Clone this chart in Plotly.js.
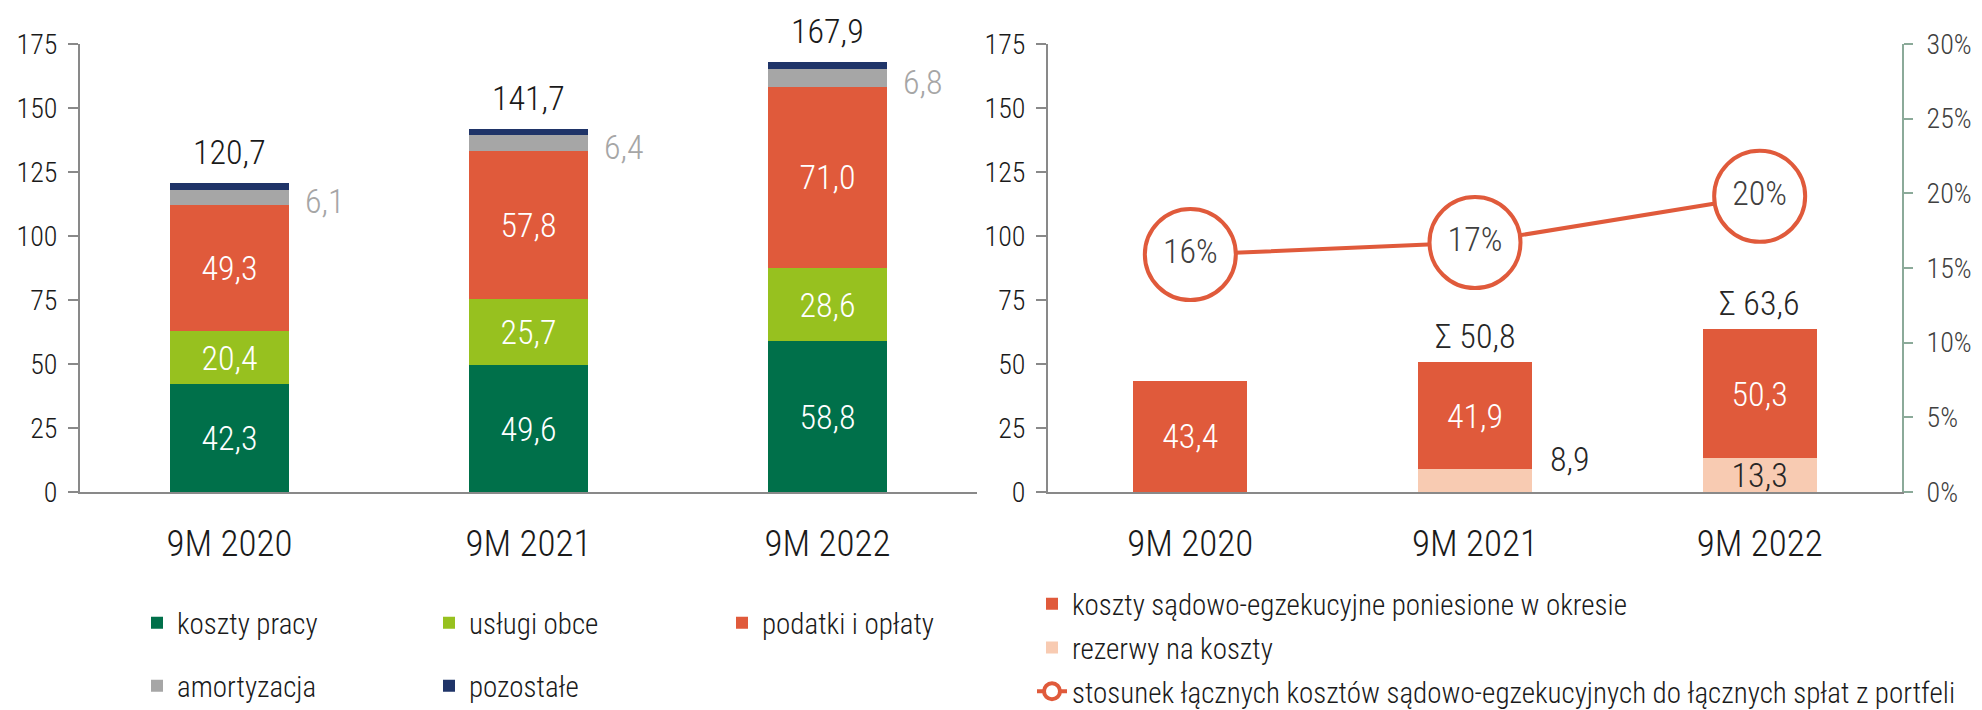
<!DOCTYPE html>
<html><head><meta charset="utf-8">
<script src="https://cdn.plot.ly/plotly-3.0.1.min.js"></script>
<style>html,body{margin:0;padding:0;background:#fff;} #chart{width:1982px;height:710px;}</style>
</head><body><div id="chart"></div>
<script>
// ---------- data ----------
const categories = ['9M 2020', '9M 2021', '9M 2022'];

// left chart
const kosztyPracy   = [42.3, 49.6, 58.8];
const uslugiObce    = [20.4, 25.7, 28.6];
const podatkiOplaty = [49.3, 57.8, 71.0];
const amortyzacja   = [6.1, 6.4, 6.8];
const pozostale     = [2.6, 2.2, 2.7];
const sumyLewe      = [120.7, 141.7, 167.9];

// right chart
const kosztySadowe  = [43.4, 41.9, 50.3];
const rezerwy       = [null, 8.9, 13.3];
const rezerwyOutside = [false, true, false];
const sumyPrawe     = [null, 50.8, 63.6];
const stosunek      = [15.9, 16.7, 19.8];

const leftTicks = [0, 25, 50, 75, 100, 125, 150, 175];
const pctTicks  = [0, 5, 10, 15, 20, 25, 30];

const names = {
  kp: 'koszty pracy', uo: 'usługi obce', po: 'podatki i opłaty',
  am: 'amortyzacja', pz: 'pozostałe',
  ks: 'koszty sądowo-egzekucyjne poniesione w okresie',
  rz: 'rezerwy na koszty',
  st: 'stosunek łącznych kosztów sądowo-egzekucyjnych do łącznych spłat z portfeli'
};

// ---------- styling ----------
const W = 1982, H = 710;
const FONT = '"Roboto Condensed", "Liberation Sans Narrow", "DejaVu Sans Condensed", "Arial Narrow", sans-serif';
const WT = 300;
const C = {
  green: '#00704A', lime: '#97C11F', orange: '#E05A3B', gray: '#A6A6A6',
  navy: '#1F3468', peach: '#F8CBB2', axis: '#898989', axis2: '#8BAA99',
  text: '#1A1A1A', text2: '#404040'
};
const fx = p => p / W;
const fy = p => 1 - p / H;
const fmt = v => v.toFixed(1).replace('.', ',');
const F = (size, color) => ({family: FONT, size: size, color: color, weight: WT});

const yDomain = [fy(492), fy(44)];
const BAR_LABEL = 34;

function stackBar(y, name, color, xa, ya, legend, opts) {
  return Object.assign({
    type: 'bar', x: categories, y: y, name: name, xaxis: xa, yaxis: ya,
    marker: {color: color, line: {width: 0}},
    legend: legend, hoverinfo: 'skip', textangle: 0,
    constraintext: 'none', cliponaxis: false
  }, opts || {});
}

const traces = [
  stackBar(kosztyPracy, names.kp, C.green, 'x', 'y', 'legend', {
    text: kosztyPracy.map(fmt), textposition: 'inside', insidetextanchor: 'middle',
    textfont: F(BAR_LABEL, '#ffffff')}),
  stackBar(uslugiObce, names.uo, C.lime, 'x', 'y', 'legend2', {
    text: uslugiObce.map(fmt), textposition: 'inside', insidetextanchor: 'middle',
    textfont: F(BAR_LABEL, '#ffffff')}),
  stackBar(podatkiOplaty, names.po, C.orange, 'x', 'y', 'legend3', {
    text: podatkiOplaty.map(fmt), textposition: 'inside', insidetextanchor: 'middle',
    textfont: F(BAR_LABEL, '#ffffff')}),
  stackBar(amortyzacja, names.am, C.gray, 'x', 'y', 'legend4', {textposition: 'none'}),
  stackBar(pozostale, names.pz, C.navy, 'x', 'y', 'legend5', {textposition: 'none'}),

  stackBar(rezerwy, names.rz, C.peach, 'x2', 'y2', 'legend6', {
    text: rezerwy.map((v, i) => (v === null || rezerwyOutside[i]) ? '' : fmt(v)),
    textposition: 'inside', insidetextanchor: 'middle',
    textfont: F(BAR_LABEL, '#262626'),
    legendgroup: 'g2', legendrank: 2}),
  stackBar(kosztySadowe, names.ks, C.orange, 'x2', 'y2', 'legend6', {
    text: kosztySadowe.map(fmt), textposition: 'inside', insidetextanchor: 'middle',
    textfont: F(BAR_LABEL, '#ffffff'),
    legendgroup: 'g1', legendrank: 1}),
  {
    type: 'scatter', mode: 'lines+markers', x: categories, y: stosunek,
    xaxis: 'x2', yaxis: 'y3', name: names.st, legend: 'legend6',
    legendgroup: 'g3', legendrank: 3, hoverinfo: 'skip', cliponaxis: false,
    line: {color: C.orange, width: 4},
    marker: {size: 91, color: '#ffffff', line: {color: C.orange, width: 4}}
  },
  {
    type: 'scatter', mode: 'text', x: categories, y: stosunek,
    xaxis: 'x2', yaxis: 'y3', showlegend: false, hoverinfo: 'skip', cliponaxis: false,
    text: stosunek.map(v => Math.round(v) + '%'), textposition: 'middle center',
    textfont: F(BAR_LABEL, C.text2)
  }
];

// ---------- annotations ----------
const annotations = [];
categories.forEach((c, i) => {
  annotations.push({
    xref: 'x', yref: 'y', x: c, y: sumyLewe[i], text: fmt(sumyLewe[i]),
    showarrow: false, yanchor: 'bottom', yshift: 9,
    font: F(BAR_LABEL, C.text)
  });
  const amMid = kosztyPracy[i] + uslugiObce[i] + podatkiOplaty[i] + amortyzacja[i] / 2;
  annotations.push({
    xref: 'x', yref: 'y', x: c, y: amMid, text: fmt(amortyzacja[i]),
    showarrow: false, xanchor: 'left', xshift: 73, yanchor: 'middle', yshift: -4,
    font: F(BAR_LABEL, C.gray)
  });
  if (sumyPrawe[i] !== null) {
    annotations.push({
      xref: 'x2', yref: 'y2', x: c, y: sumyPrawe[i], text: 'Σ ' + fmt(sumyPrawe[i]),
      showarrow: false, yanchor: 'bottom', yshift: 4,
      font: F(BAR_LABEL, '#262626')
    });
  }
  if (rezerwy[i] !== null && rezerwyOutside[i]) {
    annotations.push({
      xref: 'x2', yref: 'y2', x: c, y: rezerwy[i], text: fmt(rezerwy[i]),
      showarrow: false, xanchor: 'left', xshift: 73, yanchor: 'middle', yshift: 10,
      font: F(BAR_LABEL, '#262626')
    });
  }
});

// ---------- axes ----------
const catAxis = dom => ({
  domain: dom, type: 'category', range: [-0.5, 2.5],
  showline: true, linecolor: C.axis, linewidth: 2, ticks: '', showgrid: false, zeroline: false,
  tickfont: F(37, C.text), ticklabelstandoff: 18, fixedrange: true
});
const valAxis = (anchor) => ({
  domain: yDomain, anchor: anchor, range: [0, 175], tickmode: 'array',
  tickvals: leftTicks, ticktext: leftTicks.map(String),
  showline: true, linecolor: C.axis, linewidth: 2, ticks: 'outside', ticklen: 10,
  tickwidth: 2, tickcolor: C.axis, showgrid: false, zeroline: false,
  tickfont: F(28, C.text), ticklabelstandoff: 5, fixedrange: true
});

const legendBase = (x, y) => ({
  x: fx(x), y: fy(y), xanchor: 'left', yanchor: 'middle', orientation: 'v',
  bgcolor: 'rgba(0,0,0,0)', borderwidth: 0,
  font: F(29, C.text), traceorder: 'normal'
});

const leg6 = legendBase(1032, 648);
leg6.tracegroupgap = 3;
leg6.traceorder = 'grouped';

const layout = {
  width: W, height: H,
  margin: {l: 0, r: 0, t: 0, b: 0, autoexpand: false},
  paper_bgcolor: '#ffffff', plot_bgcolor: 'rgba(0,0,0,0)',
  barmode: 'stack', bargap: 0.6,
  showlegend: true,
  xaxis: Object.assign(catAxis([fx(80), fx(977)]), {anchor: 'y'}),
  yaxis: valAxis('x'),
  xaxis2: Object.assign(catAxis([fx(1048), fx(1902)]), {anchor: 'y2'}),
  yaxis2: valAxis('x2'),
  yaxis3: {
    overlaying: 'y2', anchor: 'x2', side: 'right', range: [0, 30], tickmode: 'array',
    tickvals: pctTicks, ticktext: pctTicks.map(v => v + '%'),
    showline: true, linecolor: C.axis2, linewidth: 2, ticks: 'outside',
    ticklen: 9, tickwidth: 2, tickcolor: C.axis2, showgrid: false, zeroline: false,
    tickfont: F(28, C.text2), ticklabelstandoff: 8, fixedrange: true
  },
  legend: legendBase(137, 623),
  legend2: legendBase(429, 623),
  legend3: legendBase(722, 623),
  legend4: legendBase(137, 686),
  legend5: legendBase(429, 686),
  legend6: leg6,
  annotations: annotations,
  font: {family: FONT, color: C.text, weight: WT}
};

Plotly.newPlot('chart', traces, layout, {displayModeBar: false, staticPlot: true});
</script>
</body></html>
